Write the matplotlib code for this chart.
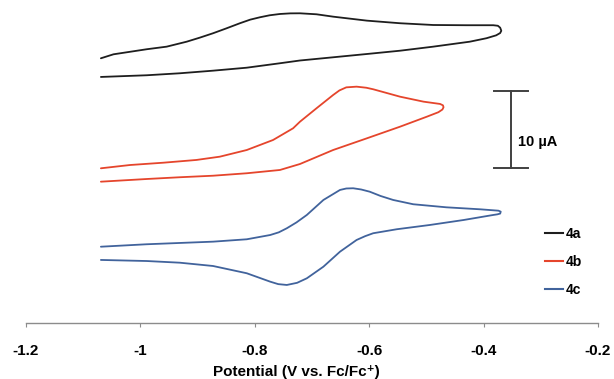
import matplotlib
matplotlib.use("Agg")
import matplotlib.pyplot as plt
from matplotlib.lines import Line2D

plt.rcParams['font.family'] = ['Liberation Sans', 'DejaVu Sans']
plt.rcParams['font.weight'] = 'bold'

# cyclic voltammograms, potential in V vs Fc/Fc+, current in uA (stacked with offsets)
v_4a = [-1.069, -1.047, -0.989, -0.954, -0.919, -0.896, -0.873, -0.850, -0.826, -0.808,
        -0.791, -0.774, -0.756, -0.738, -0.721, -0.692, -0.663, -0.604, -0.546, -0.488,
        -0.430, -0.383, -0.375, -0.371, -0.369, -0.371, -0.378, -0.395, -0.424, -0.488,
        -0.546, -0.604, -0.663, -0.721, -0.756, -0.814, -0.873, -0.931, -0.989, -1.069]
i_4a = [34.60, 35.12, 35.78, 36.12, 36.77, 37.30, 37.87, 38.50, 39.18, 39.65,
        39.96, 40.22, 40.39, 40.47, 40.48, 40.35, 40.04, 39.52, 39.18, 38.95,
        38.92, 38.92, 38.85, 38.60, 38.20, 37.90, 37.60, 37.22, 36.77, 36.12,
        35.59, 35.16, 34.73, 34.31, 33.95, 33.37, 32.98, 32.64, 32.38, 32.16]

v_4b = [-1.069, -1.018, -0.960, -0.902, -0.861, -0.814, -0.768, -0.733, -0.721, -0.692,
        -0.663, -0.652, -0.640, -0.622, -0.605, -0.593, -0.546, -0.505, -0.476, -0.471,
        -0.470, -0.472, -0.479, -0.499, -0.546, -0.604, -0.663, -0.721, -0.756, -0.814,
        -0.873, -0.931, -0.989, -1.069]
i_4b = [20.22, 20.65, 20.95, 21.31, 21.74, 22.61, 23.92, 25.45, 26.31, 28.07,
        29.80, 30.40, 30.80, 30.89, 30.75, 30.55, 29.58, 28.93, 28.63, 28.45,
        28.20, 27.90, 27.55, 26.97, 25.66, 24.14, 22.61, 20.78, 20.00, 19.57,
        19.25, 19.05, 18.82, 18.47]

v_4c = [-1.069, -0.989, -0.873, -0.814, -0.773, -0.758, -0.744, -0.727, -0.709, -0.680,
        -0.651, -0.640, -0.628, -0.614, -0.599, -0.580, -0.558, -0.523, -0.465, -0.406,
        -0.374, -0.370, -0.371, -0.376, -0.383, -0.435, -0.494, -0.552, -0.593, -0.607,
        -0.622, -0.651, -0.680, -0.709, -0.726, -0.744, -0.759, -0.773, -0.814, -0.873,
        -0.931, -0.989, -1.069]
i_4c = [9.97, 10.29, 10.63, 10.94, 11.50, 11.85, 12.38, 13.15, 14.12, 16.08,
        17.39, 17.58, 17.61, 17.45, 17.16, 16.60, 16.08, 15.52, 15.12, 14.86,
        14.68, 14.55, 14.30, 14.20, 14.12, 13.46, 12.81, 12.25, 11.73, 11.35,
        10.85, 9.32, 7.36, 5.84, 5.25, 4.97, 5.08, 5.40, 6.50, 7.45,
        7.88, 8.10, 8.24]

labels = ['4a', '4b', '4c']
colors = ['#1e1e1e', '#e5452c', '#41639c']
xticks = [-1.2, -1, -0.8, -0.6, -0.4, -0.2]
xtick_labels = ['-1.2', '-1', '-0.8', '-0.6', '-0.4', '-0.2']

# scale bar (uA)
bar_x = -0.352
bar_bottom = 20.3
bar_len = 10

fig = plt.figure(figsize=(6.14, 3.79), dpi=100)
ax = fig.add_axes([0.0423, 0.1478, 0.9316, 0.8478])

for v, i, lab, c in zip([v_4a, v_4b, v_4c], [i_4a, i_4b, i_4c], labels, colors):
    ax.plot(v, i, color=c, lw=1.3, label=lab, solid_joinstyle='round',
            solid_capstyle='round')

ax.set_xlim(-1.2, -0.2)
ax.set_ylim(0, 42)
ax.set_xticks(xticks)
ax.set_xticklabels(xtick_labels, fontsize=11, fontweight='bold')
ax.set_yticks([])
for s in ['top', 'right', 'left']:
    ax.spines[s].set_visible(False)
ax.spines['bottom'].set_color('#8c8c8c')
ax.spines['bottom'].set_linewidth(1.0)
ax.tick_params(axis='x', direction='out', length=3, color='#8c8c8c', pad=12)

ax.set_xlabel('Potential (V vs. Fc/Fc⁺)', fontsize=11, fontweight='bold')
ax.xaxis.set_label_coords(0.472, -0.132)

# scale bar
cap = 0.029
ax.plot([bar_x, bar_x], [bar_bottom, bar_bottom + bar_len], color='#404040', lw=1.4)
ax.plot([bar_x - cap, bar_x + cap], [bar_bottom, bar_bottom], color='#404040', lw=1.4)
ax.plot([bar_x - cap, bar_x + cap], [bar_bottom + bar_len] * 2, color='#404040', lw=1.4)
ax.text(bar_x + 0.012, bar_bottom + bar_len * 0.33, '10 µA', fontsize=10.5,
        fontweight='bold', va='center', ha='left')

handles = [Line2D([], [], color=c, lw=1.5) for c in colors]
ax.legend(handles, labels, loc='upper left', bbox_to_anchor=(0.885, 0.337),
          frameon=False, handlelength=1.3, handletextpad=0.2, labelspacing=1.0,
          prop={'size': 10, 'weight': 'bold'})

fig.savefig('out.png', dpi=100)
